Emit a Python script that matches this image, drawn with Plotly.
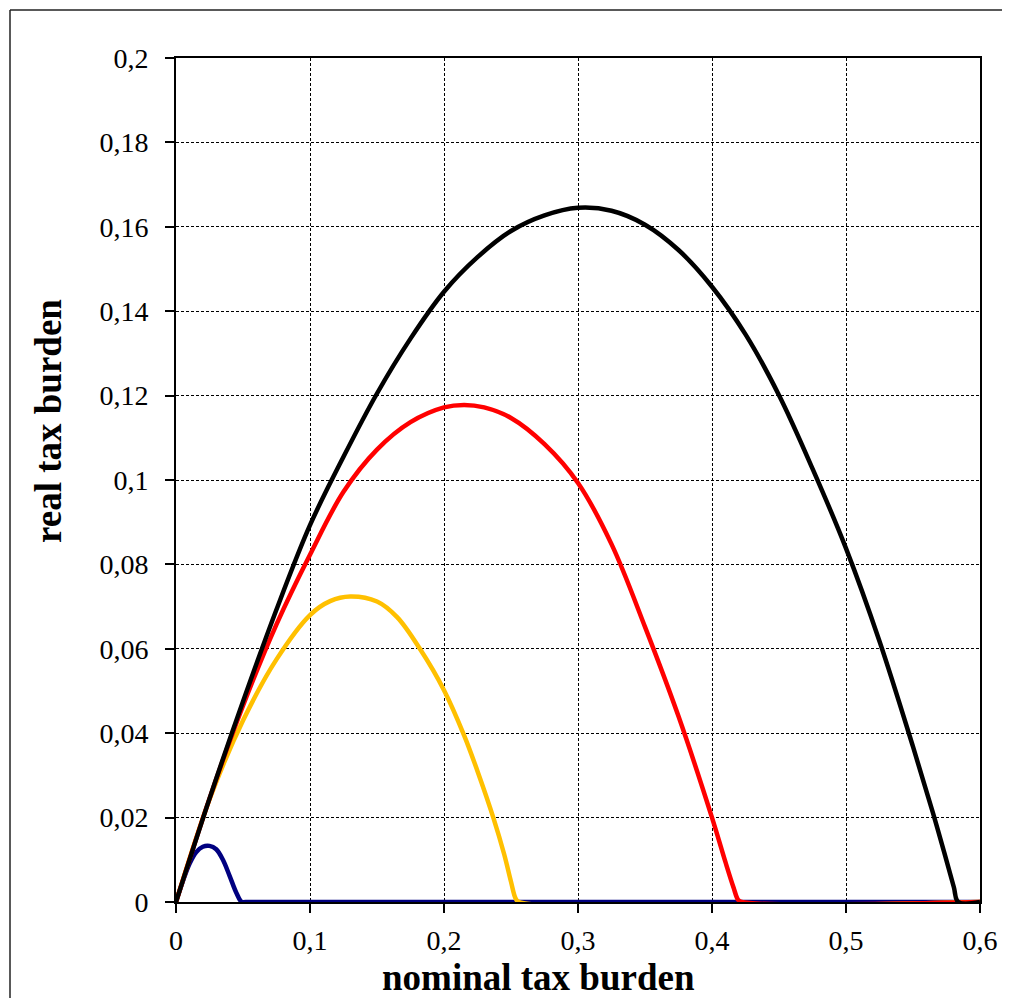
import plotly.graph_objects as go

# ---- data ----
black_x = [0, 0.025, 0.05, 0.075, 0.1, 0.125, 0.15, 0.175, 0.2, 0.225, 0.25, 0.275, 0.3, 0.325,
           0.35, 0.375, 0.4, 0.425, 0.45, 0.475, 0.5, 0.525, 0.55, 0.565, 0.575, 0.5805, 0.5838, 0.6]
black_y = [0, 0.0245, 0.0475, 0.0693, 0.0893, 0.1055, 0.1205, 0.1335, 0.1446, 0.1528, 0.1590,
           0.1627, 0.1645, 0.1638, 0.1605, 0.1545, 0.1458, 0.1345, 0.1201, 0.1027, 0.0838, 0.0618,
           0.0368, 0.021, 0.0098, 0.0035, 0, 0]

red_x = [0, 0.025, 0.05, 0.075, 0.1, 0.125, 0.15, 0.175, 0.2, 0.215, 0.23, 0.25, 0.275, 0.3,
         0.325, 0.35, 0.375, 0.4, 0.41, 0.416, 0.4195, 0.422, 0.6]
red_y = [0, 0.0245, 0.0465, 0.0658, 0.0823, 0.0972, 0.1072, 0.1137, 0.1172, 0.1178, 0.1172,
         0.1147, 0.1085, 0.0993, 0.0848, 0.0652, 0.044, 0.02, 0.0095, 0.0035, 0.0005, 0, 0]

yellow_x = [0, 0.025, 0.05, 0.075, 0.1, 0.115, 0.13, 0.15, 0.165, 0.182, 0.2, 0.215, 0.225,
            0.2368, 0.245, 0.25, 0.2535, 0.256, 0.6]
yellow_y = [0, 0.0243, 0.043, 0.0575, 0.068, 0.0713, 0.0724, 0.0712, 0.0675, 0.06, 0.0502, 0.0395,
            0.031, 0.02, 0.0112, 0.0048, 0.0008, 0, 0]

blue_x = [0, 0.005, 0.01, 0.015, 0.02, 0.025, 0.03, 0.035, 0.04, 0.045, 0.049, 0.052, 0.6]
blue_y = [0, 0.0048, 0.0090, 0.0118, 0.0131, 0.0133, 0.0125, 0.0100, 0.0062, 0.0022, 0, 0, 0]

x_ticks = [0, 0.1, 0.2, 0.3, 0.4, 0.5, 0.6]
x_tick_labels = ["0", "0,1", "0,2", "0,3", "0,4", "0,5", "0,6"]
y_ticks = [0, 0.02, 0.04, 0.06, 0.08, 0.10, 0.12, 0.14, 0.16, 0.18, 0.2]
y_tick_labels = ["0", "0,02", "0,04", "0,06", "0,08", "0,1", "0,12", "0,14", "0,16", "0,18", "0,2"]

x_title = "nominal tax burden"
y_title = "real tax burden"

FONT = "Liberation Serif, Times New Roman, serif"

fig = go.Figure()
series = [
    (blue_x, blue_y, "#000080"),
    (yellow_x, yellow_y, "#FFC000"),
    (red_x, red_y, "#FF0000"),
    (black_x, black_y, "#000000"),
]
for xs, ys, col in series:
    fig.add_trace(go.Scatter(x=xs, y=ys, mode="lines",
                             line=dict(color=col, width=4.5, shape="spline", smoothing=1.0),
                             showlegend=False, hoverinfo="skip", cliponaxis=False))

axis_common = dict(
    showline=True, linecolor="black", linewidth=2, mirror=True,
    ticks="outside", ticklen=9, tickwidth=1.5, tickcolor="black",
    showgrid=True, gridcolor="black", gridwidth=1, griddash="3px,2px",
    zeroline=False, automargin=False,
    tickfont=dict(family=FONT, size=28, color="black"),
)

fig.update_xaxes(range=[0, 0.6], tickvals=x_ticks, ticktext=x_tick_labels,
                 ticklabelstandoff=3, **axis_common)
fig.update_yaxes(range=[0, 0.2], tickvals=y_ticks, ticktext=y_tick_labels,
                 ticklabelstandoff=11, **axis_common)

# page has an 8px body margin; keep the figure inside the viewport
W, H = 1000, 990
L, T = 168, 50
R = W + 8 - 980
B = H + 8 - 902
pw, ph = W - L - R, H - T - B


def px_x(p):
    return (p - 176) / pw


def px_y(p):
    return (902 - p) / ph


title_font = dict(family=FONT, size=37, color="black", weight="bold")
fig.add_annotation(text=x_title, xref="paper", yref="paper", x=px_x(538), y=px_y(978),
                   xanchor="center", yanchor="middle", showarrow=False, font=title_font)
fig.add_annotation(text=y_title, xref="paper", yref="paper", x=px_x(48), y=px_y(421),
                   xanchor="center", yanchor="middle", showarrow=False, textangle=-90,
                   font=title_font)

# outer frame of the picture (top and left edges are visible)
frame = dict(color="#222222", width=1.5)
fig.add_shape(type="line", xref="paper", yref="paper",
              x0=px_x(10), x1=px_x(1030), y0=px_y(10), y1=px_y(10), line=frame)
fig.add_shape(type="line", xref="paper", yref="paper",
              x0=px_x(10), x1=px_x(10), y0=px_y(10), y1=px_y(1030), line=frame)

fig.update_layout(
    width=W, height=H,
    margin=dict(l=L, r=R, t=T, b=B),
    plot_bgcolor="white", paper_bgcolor="white",
    font=dict(family=FONT, color="black"),
)

fig.write_html("out.html")
